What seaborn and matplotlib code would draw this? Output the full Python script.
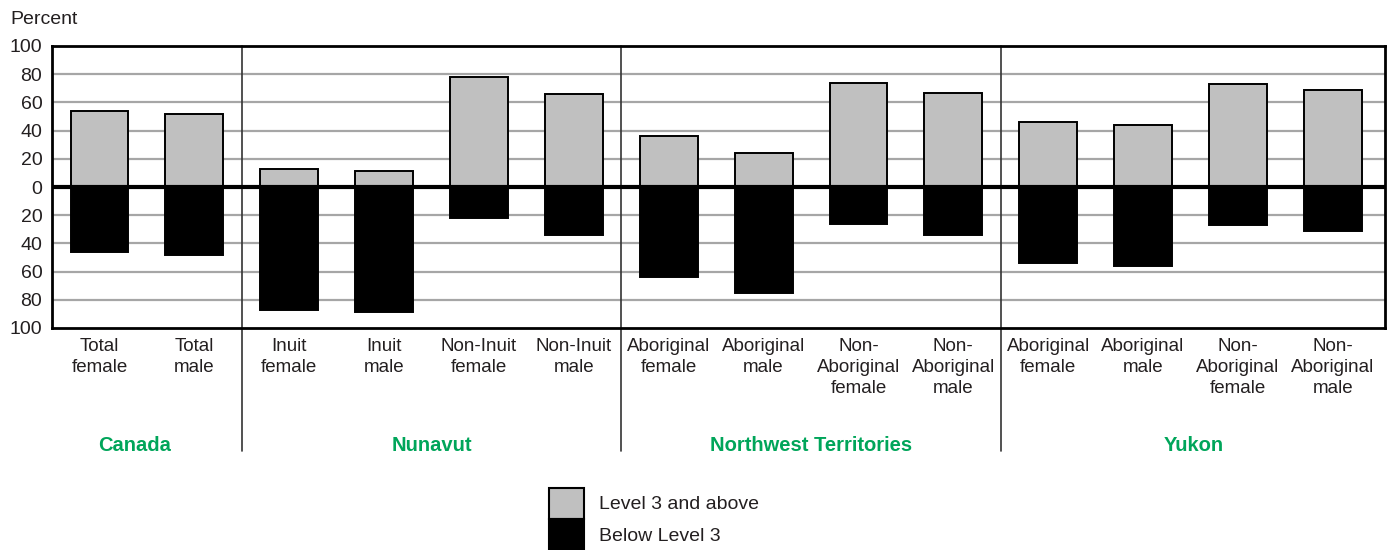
import pandas as pd
import matplotlib
matplotlib.use('Agg')
import matplotlib.pyplot as plt
import matplotlib.patches as mpatches
import seaborn as sns

# Bar labels (one per bar, left to right) and their region
labels = ['Total\nfemale', 'Total\nmale',
          'Inuit\nfemale', 'Inuit\nmale', 'Non-Inuit\nfemale', 'Non-Inuit\nmale',
          'Aboriginal\nfemale', 'Aboriginal\nmale', 'Non-\nAboriginal\nfemale', 'Non-\nAboriginal\nmale',
          'Aboriginal\nfemale', 'Aboriginal\nmale', 'Non-\nAboriginal\nfemale', 'Non-\nAboriginal\nmale']
regions = ['Canada'] * 2 + ['Nunavut'] * 4 + ['Northwest Territories'] * 4 + ['Yukon'] * 4
region_names = ['Canada', 'Nunavut', 'Northwest Territories', 'Yukon']

level3_above = [54, 52, 13, 11, 78, 66, 36, 24, 74, 67, 46, 44, 73, 69]
below_level3 = [46, 48, 87, 89, 22, 34, 64, 75, 26, 34, 54, 56, 27, 31]

yticks = [-100, -80, -60, -40, -20, 0, 20, 40, 60, 80, 100]

GREY = '#c0c0c0'
GREEN = '#00a55a'
TEXT = '#231f20'

keys = [f'{r}|{i}' for i, r in enumerate(regions)]
df = pd.DataFrame({
    'key': keys * 2,
    'level': ['Level 3 and above'] * len(keys) + ['Below Level 3'] * len(keys),
    'value': level3_above + [-v for v in below_level3],
})

sns.set_style('white')
plt.rcParams['font.family'] = ['Liberation Sans', 'DejaVu Sans']
plt.rcParams['text.color'] = TEXT

fig = plt.figure(figsize=(13.9, 5.5), dpi=100)
ax = fig.add_axes([52 / 1390, 1 - 328 / 550, (1385 - 52) / 1390, (328 - 46) / 550])

for y in yticks:
    if y not in (0, 100, -100):
        ax.axhline(y, color='#a6a6a6', lw=1.6, zorder=0)

sns.barplot(data=df, x='key', y='value', hue='level', order=keys, dodge=False,
            palette={'Level 3 and above': GREY, 'Below Level 3': 'black'},
            width=0.61, edgecolor='black', linewidth=1.4, legend=False, ax=ax, zorder=2)

ax.axhline(0, color='black', lw=3, zorder=3)

ax.set_xlim(-0.5, 13.55)
ax.set_ylim(-100, 100)
ax.set_yticks(yticks)
ax.set_yticklabels([str(abs(v)) for v in yticks], fontsize=14, color=TEXT)
ax.set_xticks(range(len(labels)))
ax.set_xticklabels(labels, fontsize=13.5, color=TEXT, linespacing=1.3, va='top')
ax.tick_params(axis='both', length=0)
ax.tick_params(axis='x', pad=7)
ax.tick_params(axis='y', pad=7)
ax.set_xlabel('')
ax.set_ylabel('')
for s in ax.spines.values():
    s.set_linewidth(2)
    s.set_color('black')

# Region separators running down past the axis
for xs in [1.5, 5.5, 9.5]:
    ax.axvline(xs, ymin=-0.435, ymax=1, color='#333333', lw=1.2, clip_on=False, zorder=1)

# Region names
starts = [0, 2, 6, 10]
ends = [1, 5, 9, 13]
shift = [-0.13, 0, 0, 0.03]
for name, a, b, d in zip(region_names, starts, ends, shift):
    ax.text((a + b) / 2 + d, -0.415, name, transform=ax.get_xaxis_transform(),
            ha='center', va='center', fontsize=14.5, fontweight='bold', color=GREEN)

fig.text(10 / 1390, 1 - 19 / 550, 'Percent', fontsize=14, va='center', ha='left', color=TEXT)

handles = [mpatches.Patch(facecolor=GREY, edgecolor='black', lw=1.5, label='Level 3 and above'),
           mpatches.Patch(facecolor='black', edgecolor='black', lw=1.5, label='Below Level 3')]
fig.legend(handles=handles, loc='center left', bbox_to_anchor=(549 / 1390, 1 - 519 / 550),
           frameon=False, fontsize=14, handlelength=1.8, handleheight=2.1,
           labelspacing=0, handletextpad=0.75, borderpad=0, borderaxespad=0)

fig.savefig('out.png', dpi=100)
